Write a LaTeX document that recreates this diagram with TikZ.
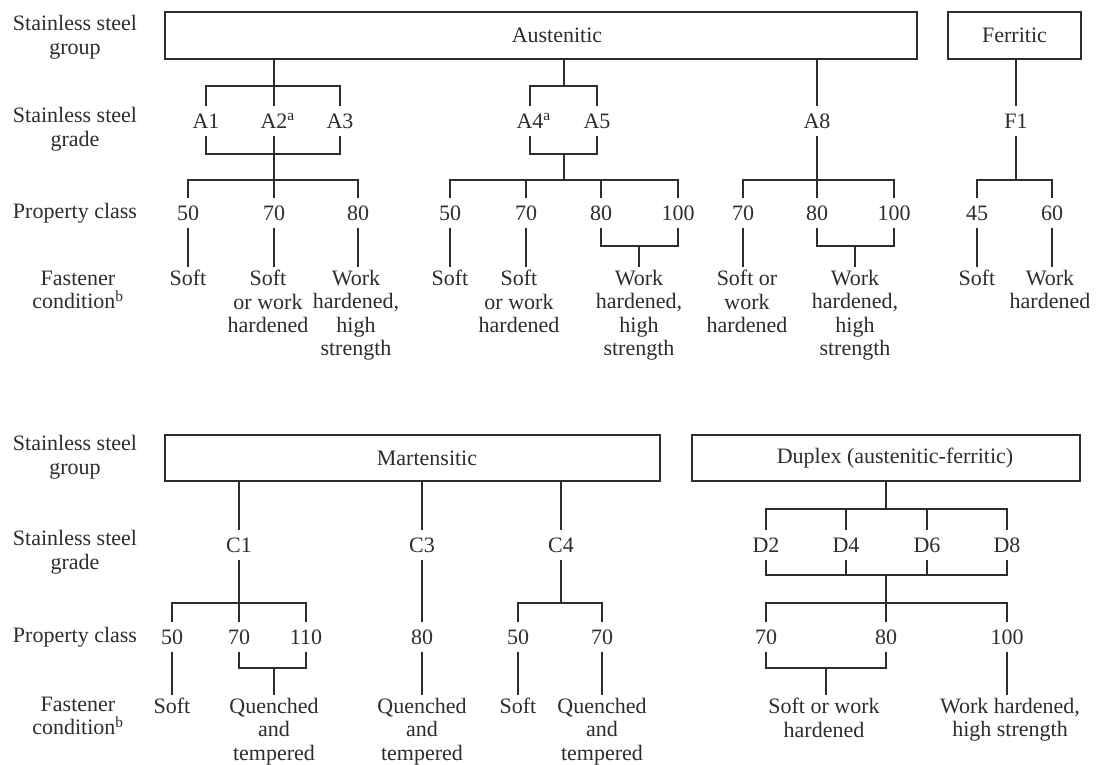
\documentclass[tikz,border=0pt]{standalone}
\usepackage{fontspec}
\setmainfont{Liberation Serif}
\definecolor{ink}{RGB}{45,45,45}
\begin{document}
\begin{tikzpicture}[x=1pt,y=-1pt,
 every node/.style={text=ink, font=\fontsize{22}{23.5}\selectfont},
 grp/.style={draw=ink, line width=1.5pt, minimum height=47pt, inner sep=0pt},
 lab/.style={inner sep=0pt, minimum height=30pt},
 cond/.style={align=center, anchor=north, inner sep=3pt},
 row/.style={align=center, inner sep=0pt},
 ln/.style={draw=ink, line width=1.3pt},
]
\path[use as bounding box, fill=white] (0,0) rectangle (1100,765);

% ---------- top part ----------
\node[grp, minimum width=752pt] (aus) at (541,35.5) {};
\node (austxt) at (557,35) {Austenitic};
\node[grp, minimum width=133pt] (fer) at (1014.5,35.5) {Ferritic};

\node[row] (rg1) at (75,37) {Stainless steel\\group};
\node[row] (rd1) at (75,129) {Stainless steel\\grade};
\node[row] (rp1) at (75,213) {Property class};
\node[row] (rf1) at (78,290) {Fastener\\condition\textsuperscript{b}};

\node[lab] (A1) at (206,121) {A1};
\node[lab] (A2) at (274,121) {A2\rlap{\textsuperscript{a}}};
\node[lab] (A3) at (340,121) {A3};
\node[lab] (A4) at (530,121) {A4\rlap{\textsuperscript{a}}};
\node[lab] (A5) at (597,121) {A5};
\node[lab] (A8) at (817,121) {A8};
\node[lab] (F1) at (1016,121) {F1};

\node[lab] (pa1) at (188,213) {50};
\node[lab] (pa2) at (274,213) {70};
\node[lab] (pa3) at (358,213) {80};
\node[lab] (pb1) at (450,213) {50};
\node[lab] (pb2) at (526,213) {70};
\node[lab] (pb3) at (601,213) {80};
\node[lab] (pb4) at (678,213) {100};
\node[lab] (pc1) at (743,213) {70};
\node[lab] (pc2) at (817,213) {80};
\node[lab] (pc3) at (894,213) {100};
\node[lab] (pd1) at (977,213) {45};
\node[lab] (pd2) at (1052,213) {60};

\node[cond] (fa1) at (188,267) {Soft};
\node[cond] (fa2) at (268,267) {Soft\\or work\\hardened};
\node[cond] (fa3) at (356,267) {Work\\hardened,\\high\\strength};
\node[cond] (fb1) at (450,267) {Soft};
\node[cond] (fb2) at (519,267) {Soft\\or work\\hardened};
\node[cond] (fb3) at (639,267) {Work\\hardened,\\high\\strength};
\node[cond] (fc1) at (747,267) {Soft or\\work\\hardened};
\node[cond] (fc2) at (855,267) {Work\\hardened,\\high\\strength};
\node[cond] (fd1) at (977,267) {Soft};
\node[cond] (fd2) at (1050,267) {Work\\hardened};

% A1-A3
\coordinate (ja1) at (274,86);
\coordinate (ja2) at (274,154);
\coordinate (ja3) at (274,180);
\draw[ln] (aus.south -| ja1) -- (ja1);
\draw[ln] (A1.north) -- (A1.north |- ja1) -- (A3.north |- ja1) -- (A3.north);
\draw[ln] (ja1) -- (A2.north);
\draw[ln] (A1.south) -- (A1.south |- ja2) -- (A3.south |- ja2) -- (A3.south);
\draw[ln] (A2.south) -- (ja3);
\draw[ln] (pa1.north) -- (pa1.north |- ja3) -- (pa3.north |- ja3) -- (pa3.north);
\draw[ln] (ja3) -- (pa2.north);
\draw[ln] (pa1.south) -- (fa1.north);
\draw[ln] (pa2.south) -- (pa2.south |- fa2.north);
\draw[ln] (pa3.south) -- (pa3.south |- fa3.north);

% A4-A5
\coordinate (jb1) at (564,86);
\coordinate (jb2) at (564,154);
\coordinate (jb3) at (564,180);
\coordinate (jb4) at (639,246);
\draw[ln] (aus.south -| jb1) -- (jb1);
\draw[ln] (A4.north) -- (A4.north |- jb1) -- (A5.north |- jb1) -- (A5.north);
\draw[ln] (A4.south) -- (A4.south |- jb2) -- (A5.south |- jb2) -- (A5.south);
\draw[ln] (jb2) -- (jb3);
\draw[ln] (pb1.north) -- (pb1.north |- jb3) -- (pb4.north |- jb3) -- (pb4.north);
\draw[ln] (pb2.north) -- (pb2.north |- jb3);
\draw[ln] (pb3.north) -- (pb3.north |- jb3);
\draw[ln] (pb1.south) -- (fb1.north);
\draw[ln] (pb2.south) -- (pb2.south |- fb2.north);
\draw[ln] (pb3.south) -- (pb3.south |- jb4) -- (pb4.south |- jb4) -- (pb4.south);
\draw[ln] (jb4) -- (fb3.north);

% A8
\coordinate (jc1) at (817,180);
\coordinate (jc2) at (855,246);
\draw[ln] (aus.south -| A8) -- (A8.north);
\draw[ln] (A8.south) -- (jc1) -- (pc2.north);
\draw[ln] (pc1.north) -- (pc1.north |- jc1) -- (pc3.north |- jc1) -- (pc3.north);
\draw[ln] (pc1.south) -- (pc1.south |- fc1.north);
\draw[ln] (pc2.south) -- (pc2.south |- jc2) -- (pc3.south |- jc2) -- (pc3.south);
\draw[ln] (jc2) -- (fc2.north);

% F1
\coordinate (jd1) at (1016,180);
\draw[ln] (fer.south -| F1) -- (F1.north);
\draw[ln] (F1.south) -- (jd1);
\draw[ln] (pd1.north) -- (pd1.north |- jd1) -- (pd2.north |- jd1) -- (pd2.north);
\draw[ln] (pd1.south) -- (fd1.north);
\draw[ln] (pd2.south) -- (pd2.south |- fd2.north);

% ---------- bottom part ----------
\node[grp, minimum width=495pt, minimum height=46pt] (mar) at (412.5,458) {};
\node (martxt) at (427,458) {Martensitic};
\node[grp, minimum width=388pt, minimum height=46pt] (dup) at (886,458) {};
\node (duptxt) at (895,458) {Duplex (austenitic-ferritic)};

\node[row] (rg2) at (75,457) {Stainless steel\\group};
\node[row] (rd2) at (75,552) {Stainless steel\\grade};
\node[row] (rp2) at (75,637) {Property class};
\node[row] (rf2) at (78,716) {Fastener\\condition\textsuperscript{b}};

\node[lab] (C1) at (239,545) {C1};
\node[lab] (C3) at (422,545) {C3};
\node[lab] (C4) at (561,545) {C4};
\node[lab] (D2) at (766,545) {D2};
\node[lab] (D4) at (846,545) {D4};
\node[lab] (D6) at (927,545) {D6};
\node[lab] (D8) at (1007,545) {D8};

\node[lab] (pe1) at (172,637) {50};
\node[lab] (pe2) at (239,637) {70};
\node[lab] (pe3) at (306,637) {110};
\node[lab] (pf1) at (422,637) {80};
\node[lab] (pg1) at (518,637) {50};
\node[lab] (pg2) at (602,637) {70};
\node[lab] (ph1) at (766,637) {70};
\node[lab] (ph2) at (886,637) {80};
\node[lab] (ph3) at (1007,637) {100};

\node[cond] (fe1) at (172,695) {Soft};
\node[cond] (fe2) at (274,695) {Quenched\\and\\tempered};
\node[cond] (ff1) at (422,695) {Quenched\\and\\tempered};
\node[cond] (fg1) at (518,695) {Soft};
\node[cond] (fg2) at (602,695) {Quenched\\and\\tempered};
\node[cond] (fh1) at (824,695) {Soft or work\\hardened};
\node[cond] (fh2) at (1010,695) {Work hardened,\\high strength};

% C1
\coordinate (je1) at (239,603);
\coordinate (je2) at (274,668);
\draw[ln] (mar.south -| C1) -- (C1.north);
\draw[ln] (C1.south) -- (je1) -- (pe2.north);
\draw[ln] (pe1.north) -- (pe1.north |- je1) -- (pe3.north |- je1) -- (pe3.north);
\draw[ln] (pe1.south) -- (fe1.north);
\draw[ln] (pe2.south) -- (pe2.south |- je2) -- (pe3.south |- je2) -- (pe3.south);
\draw[ln] (je2) -- (fe2.north);

% C3
\draw[ln] (mar.south -| C3) -- (C3.north);
\draw[ln] (C3.south) -- (pf1.north);
\draw[ln] (pf1.south) -- (ff1.north);

% C4
\coordinate (jg1) at (561,603);
\draw[ln] (mar.south -| C4) -- (C4.north);
\draw[ln] (C4.south) -- (jg1);
\draw[ln] (pg1.north) -- (pg1.north |- jg1) -- (pg2.north |- jg1) -- (pg2.north);
\draw[ln] (pg1.south) -- (fg1.north);
\draw[ln] (pg2.south) -- (fg2.north);

% Duplex
\coordinate (jh1) at (886,509);
\coordinate (jh2) at (886,575);
\coordinate (jh3) at (886,603);
\coordinate (jh4) at (826,668);
\draw[ln] (dup.south) -- (jh1);
\draw[ln] (D2.north) -- (D2.north |- jh1) -- (D8.north |- jh1) -- (D8.north);
\draw[ln] (D4.north) -- (D4.north |- jh1);
\draw[ln] (D6.north) -- (D6.north |- jh1);
\draw[ln] (D2.south) -- (D2.south |- jh2) -- (D8.south |- jh2) -- (D8.south);
\draw[ln] (D4.south) -- (D4.south |- jh2);
\draw[ln] (D6.south) -- (D6.south |- jh2);
\draw[ln] (jh2) -- (jh3) -- (ph2.north);
\draw[ln] (ph1.north) -- (ph1.north |- jh3) -- (ph3.north |- jh3) -- (ph3.north);
\draw[ln] (ph1.south) -- (ph1.south |- jh4) -- (ph2.south |- jh4) -- (ph2.south);
\draw[ln] (jh4) -- (jh4 |- fh1.north);
\draw[ln] (ph3.south) -- (ph3.south |- fh2.north);
\end{tikzpicture}
\end{document}
